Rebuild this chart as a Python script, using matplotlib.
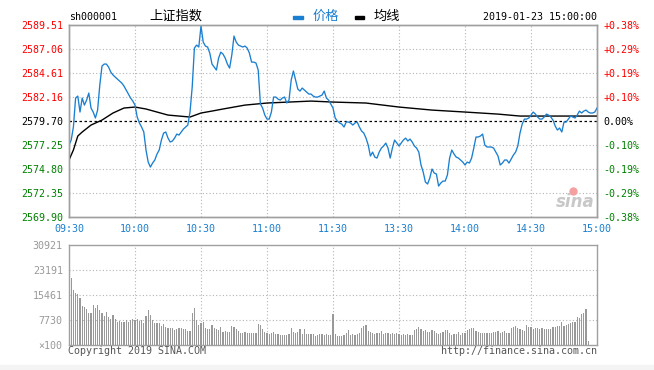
import numpy as np
import matplotlib.pyplot as plt
from matplotlib.patches import Rectangle

# minute index: 0 = 09:30, 120 = 11:30/13:00, 240 = 15:00
prev_close = 2579.70

price = [
    2577.25, 2577.76, 2579.09, 2582.05, 2582.25, 2580.62, 2582.05, 2581.33, 2581.84, 2582.56,
    2581.03, 2580.62, 2580.01, 2580.82, 2583.38, 2585.32, 2585.52, 2585.52, 2585.21, 2584.70,
    2584.40, 2584.19, 2583.99, 2583.78, 2583.58, 2583.27, 2582.87, 2582.46, 2582.05, 2581.74,
    2581.33, 2580.11, 2579.50, 2579.09, 2578.58, 2576.74, 2575.51, 2575.00, 2575.41, 2575.72,
    2576.33, 2576.74, 2577.76, 2578.47, 2578.58, 2577.96, 2577.56, 2577.66, 2577.96, 2578.37,
    2578.27, 2578.58, 2578.88, 2579.09, 2579.29, 2580.62, 2583.17, 2587.15, 2587.46, 2587.26,
    2589.40, 2587.77, 2587.36, 2587.26, 2586.64, 2585.52, 2585.21, 2584.91, 2586.13, 2586.74,
    2586.54, 2586.13, 2585.52, 2585.11, 2586.44, 2588.38, 2587.77, 2587.46, 2587.36, 2587.26,
    2587.36, 2587.15, 2586.64, 2585.72, 2585.72, 2585.62, 2584.91, 2581.44, 2581.03, 2580.31,
    2579.90, 2579.90, 2580.62, 2582.15, 2582.15, 2581.95, 2581.84, 2582.05, 2582.15, 2581.54,
    2581.84, 2583.89, 2584.81, 2583.89, 2582.97, 2582.76, 2583.07, 2582.87, 2582.66, 2582.46,
    2582.46, 2582.25, 2582.15, 2582.15, 2582.25, 2582.35, 2582.76, 2582.05, 2581.84, 2581.44,
    2581.03, 2580.01, 2579.70, 2579.50, 2579.39, 2579.09, 2579.60, 2579.60, 2579.50, 2579.29,
    2579.50, 2579.60, 2579.09, 2578.68, 2578.47, 2577.96, 2577.25, 2576.13, 2576.53, 2576.02,
    2575.92, 2576.53, 2576.94, 2577.15, 2577.45, 2576.94, 2575.92, 2576.94, 2577.76, 2577.45,
    2577.15, 2577.45, 2577.76, 2577.96, 2577.66, 2577.86, 2577.56, 2577.15, 2576.94, 2576.53,
    2575.21, 2574.49, 2573.47, 2573.27, 2573.88, 2574.80, 2574.39, 2574.29, 2573.06, 2573.37,
    2573.57, 2573.57, 2574.19, 2575.92, 2576.74, 2576.33, 2576.02, 2575.92, 2575.72, 2575.51,
    2575.21, 2575.51, 2575.41, 2575.92, 2576.94, 2578.07, 2578.07, 2578.17, 2578.37, 2577.25,
    2577.05, 2577.05, 2577.05, 2576.94, 2576.53, 2576.13, 2575.21, 2575.41, 2575.72, 2575.72,
    2575.41, 2575.82, 2576.23, 2576.53, 2577.15, 2578.47, 2579.39, 2579.90, 2579.90, 2580.01,
    2580.31, 2580.62, 2580.41, 2580.11, 2579.90, 2579.90, 2580.11, 2580.41, 2580.31, 2580.11,
    2579.80, 2579.19, 2578.78, 2578.99, 2578.58, 2579.60, 2579.60, 2579.90, 2580.21, 2580.11,
    2580.01, 2580.31, 2580.72, 2580.52, 2580.72, 2580.82, 2580.62, 2580.52, 2580.52, 2580.62,
    2581.03,
]

avg_minute = [0, 2, 4, 6, 10, 15, 20, 25, 30, 35, 40, 45, 50, 55, 60, 65, 70, 80, 90,
              100, 110, 120, 135, 150, 165, 180, 195, 205, 240]
avg_price = [2575.72, 2576.74, 2578.17, 2578.58, 2579.29, 2579.80, 2580.52, 2581.03, 2581.13,
             2580.93, 2580.62, 2580.31, 2580.21, 2580.11, 2580.52, 2580.72, 2580.93, 2581.33,
             2581.54, 2581.64, 2581.74, 2581.64, 2581.54, 2581.13, 2580.82, 2580.62, 2580.41,
             2580.21, 2580.21]

volume = [
    30921, 20600, 17000, 16200, 15800, 14400, 12060, 11700, 11000, 10000,
    10000, 12400, 11300, 12400, 10800, 10000, 8970, 10300, 8560, 7940,
    9280, 7940, 7220, 7530, 7220, 7220, 7730, 7220, 7730, 7940,
    7730, 7940, 7530, 7730, 6900, 8970, 10800, 9280, 7730, 6900,
    6700, 6900, 5870, 6490, 5670, 5360, 5360, 5360, 4640, 5050,
    5360, 5150, 4950, 4850, 4330, 4330, 10000, 11500, 7730, 6180,
    6800, 7220, 5360, 4850, 4850, 6180, 5150, 4850, 4640, 5670,
    4120, 4330, 4120, 4120, 5870, 5670, 4850, 4330, 3810, 3600,
    4120, 3810, 3810, 3810, 3810, 3600, 6490, 6180, 4850, 4120,
    3600, 3400, 3810, 4120, 3400, 3400, 3090, 3090, 3090, 3090,
    3400, 5360, 4120, 3600, 4120, 4850, 3400, 5050, 3400, 3400,
    3400, 3400, 2780, 3090, 3400, 3400, 3090, 3400, 3090, 3090,
    9590,
    3400, 2780, 2780, 2780, 3090, 3810, 4640, 3090, 3400, 3090,
    3400, 3810, 5150, 5870, 6180, 4330, 4120, 3810, 3400, 3610,
    3810, 4330, 3400, 3610, 3610, 3300, 3610, 3400, 3610, 3400,
    3090, 3400, 3090, 3400, 3090, 3090, 4640, 4840, 5460, 4840,
    4330, 4640, 4120, 4120, 4640, 4430, 3810, 3400, 3610, 4120,
    4640, 4640, 3810, 3090, 3300, 3400, 4120, 3090, 3610, 3810,
    4640, 4950, 5150, 5360, 4330, 4120, 3810, 3610, 3810, 3610,
    3810, 3810, 4120, 4120, 4430, 3810, 4120, 4330, 3810, 3810,
    5360, 5670, 5870, 5360, 4840, 4640, 4430, 6180, 5670, 5460,
    5050, 5150, 5150, 4840, 5260, 5050, 4950, 4950, 5050, 5460,
    5460, 5870, 5870, 7010, 5980, 6180, 6390, 6700, 7010, 7220,
    8560, 8250, 9590, 9790, 11030, 1240, 0, 0, 0,
]

price_levels = [2569.90, 2572.35, 2574.80, 2577.25, 2579.70, 2582.16, 2584.61, 2587.06, 2589.51]
pct_labels = ["-0.38%", "-0.29%", "-0.19%", "-0.10%", "0.00%", "+0.10%", "+0.19%", "+0.29%", "+0.38%"]
vol_levels = [0, 7730, 15461, 23191, 30921]
vol_labels = ["×100", "7730", "15461", "23191", "30921"]
time_ticks = [0, 30, 60, 90, 120, 150, 180, 210, 240]
time_labels = ["09:30", "10:00", "10:30", "11:00", "11:30", "13:30", "14:00", "14:30", "15:00"]

W, H = 654, 370
blue = "#1a7fd0"
red = "#ff0000"
green = "#008000"
grid_kw = dict(color="#b4b4b4", linewidth=0.8, linestyle=(0, (1, 2)))
mono = "DejaVu Sans Mono"
cjk = ["Noto Sans CJK SC", "DejaVu Sans"]


def box(x0, y0, x1, y1):
    return [x0 / W, 1 - y1 / H, (x1 - x0) / W, (y1 - y0) / H]


def fpos(x, y):
    return x / W, 1 - y / H


def level_color(lv):
    if lv > prev_close + 0.01:
        return red
    if lv < prev_close - 0.01:
        return green
    return "black"


fig = plt.figure(figsize=(W / 100, H / 100), dpi=100)
fig.patches.append(Rectangle((0, 0), 1, 5 / H, transform=fig.transFigure,
                             color="#f4f4f4", zorder=0))

# price panel
ax = fig.add_axes(box(69, 25, 597, 217))
minutes = np.arange(len(price))
ax.set_xlim(0, 240)
ax.set_ylim(price_levels[0], price_levels[-1])
for lv in price_levels[1:-1]:
    if lv == prev_close:
        ax.axhline(lv, color="black", linewidth=0.9, linestyle=(0, (2, 2)), zorder=2)
    else:
        ax.axhline(lv, zorder=1, **grid_kw)
for t in time_ticks[1:-1]:
    ax.axvline(t, zorder=1, **grid_kw)
ax.plot(avg_minute, avg_price, color="black", linewidth=1.0, zorder=3)
ax.plot(minutes, price, color=blue, linewidth=0.95, zorder=4)

ax.set_yticks(price_levels)
ax.set_yticklabels(["%.2f" % v for v in price_levels], fontfamily=mono, fontsize=7.2)
for lab, lv in zip(ax.get_yticklabels(), price_levels):
    lab.set_color(level_color(lv))
ax.set_xticks(time_ticks)
ax.set_xticklabels(time_labels, fontfamily=mono, fontsize=7.2, color=blue)
ax.tick_params(length=0, pad=4.5)
ax.tick_params(axis="x", pad=5)

ax2 = ax.twinx()
ax2.set_ylim(ax.get_ylim())
ax2.set_yticks(price_levels)
ax2.set_yticklabels(pct_labels, fontfamily=mono, fontsize=7.2)
for lab, lv in zip(ax2.get_yticklabels(), price_levels):
    lab.set_color(level_color(lv))
ax2.tick_params(length=0, pad=4.5)
for a in (ax, ax2):
    for s in a.spines.values():
        s.set_color("#a0a0a0")
        s.set_linewidth(1.0)

# sina watermark
ax.text(0.995, 0.03, "sina", transform=ax.transAxes, ha="right", va="bottom",
        fontsize=12, fontweight="bold", fontstyle="italic", color="#c8c8c8", zorder=2)
ax.plot([0.955], [0.135], marker="o", markersize=5, color="#f4a0a0",
        transform=ax.transAxes, zorder=2)

# volume panel
axv = fig.add_axes(box(69, 245, 597, 345))
axv.set_xlim(0, 240)
axv.set_ylim(0, vol_levels[-1])
for lv in vol_levels[1:-1]:
    axv.axhline(lv, zorder=1, **grid_kw)
for t in time_ticks[1:-1]:
    axv.axvline(t, zorder=1, **grid_kw)
axv.bar(np.arange(len(volume)), volume, width=0.5, color="#999999", linewidth=0, zorder=2)
axv.set_yticks(vol_levels)
axv.set_yticklabels(vol_labels, fontfamily=mono, fontsize=7.2, color="#999999")
axv.set_xticks([])
axv.tick_params(length=0, pad=4.5)
for s in axv.spines.values():
    s.set_color("#a0a0a0")
    s.set_linewidth(1.0)

# header
fig.text(*fpos(69, 17), "sh000001", fontfamily=mono, fontsize=7.2, va="center", ha="left")
fig.text(*fpos(149, 16), "上证指数", fontfamily=cjk, fontsize=9.5, va="center", ha="left")
fig.add_artist(Rectangle(fpos(293, 19), 10 / W, 3 / H, transform=fig.transFigure, color=blue))
fig.text(*fpos(313, 16), "价格", fontfamily=cjk, fontsize=9.5, va="center", ha="left", color=blue)
fig.add_artist(Rectangle(fpos(355, 19), 9 / W, 3 / H, transform=fig.transFigure, color="black"))
fig.text(*fpos(374, 16), "均线", fontfamily=cjk, fontsize=9.5, va="center", ha="left")
fig.text(*fpos(597, 17), "2019-01-23 15:00:00", fontfamily=mono, fontsize=7.2,
         va="center", ha="right")

# footer
fig.text(*fpos(68, 351), "Copyright 2019 SINA.COM", fontfamily=mono, fontsize=7.2,
         va="center", ha="left", color="#555555")
fig.text(*fpos(597, 351), "http://finance.sina.com.cn", fontfamily=mono, fontsize=7.2,
         va="center", ha="right", color="#555555")

fig.savefig("out.png", dpi=100, facecolor="white")
